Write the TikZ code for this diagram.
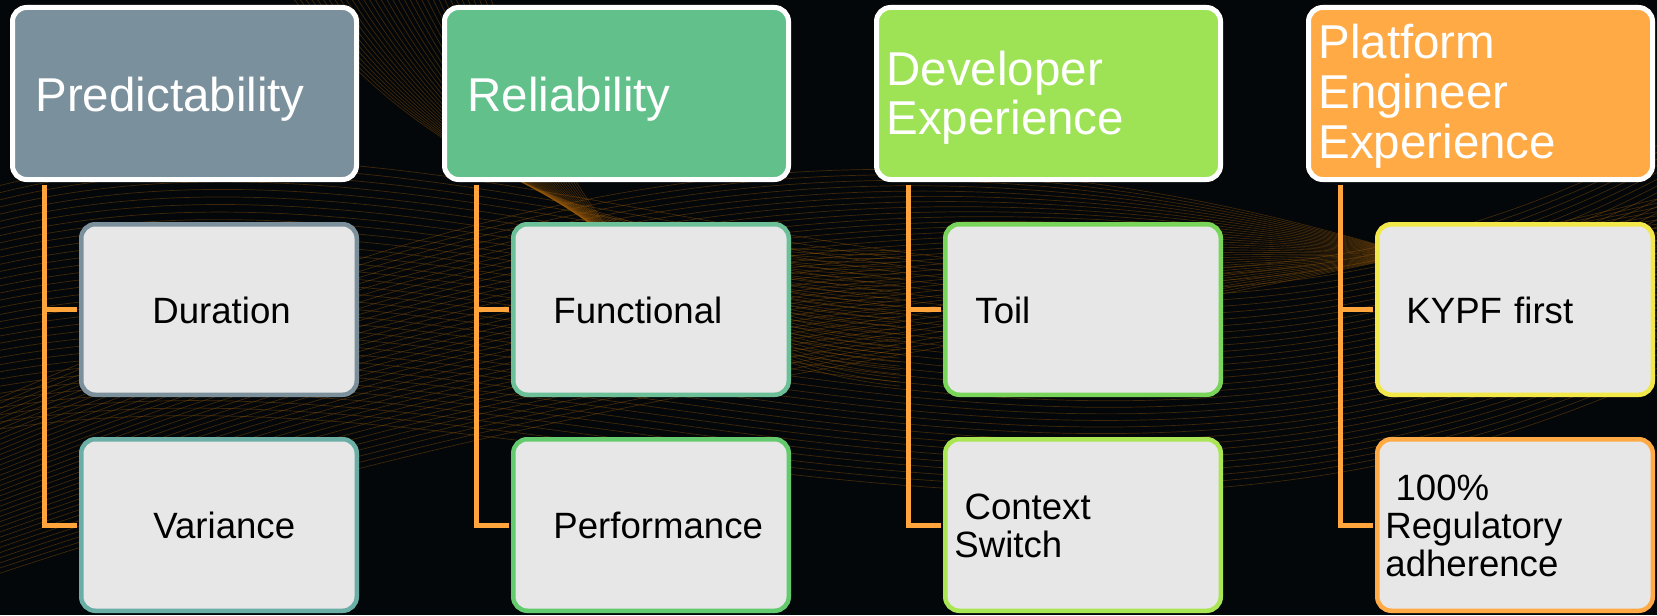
\documentclass[tikz,border=0pt]{standalone}
\usepackage{fontspec}
\setmainfont{Liberation Sans}
\usetikzlibrary{calc}
\definecolor{bgcol}{HTML}{03070A}
\definecolor{wave}{HTML}{9A5A08}
\definecolor{hPred}{HTML}{7A909C}
\definecolor{hReli}{HTML}{62C18A}
\definecolor{hDev}{HTML}{9EE355}
\definecolor{hPlat}{HTML}{FFAA44}
\definecolor{kidfill}{HTML}{E7E7E7}
\definecolor{connor}{HTML}{FFA53C}
\definecolor{bDur}{HTML}{7B909B}
\definecolor{bVar}{HTML}{6BAEA6}
\definecolor{bFun}{HTML}{6CC097}
\definecolor{bPer}{HTML}{63CB6E}
\definecolor{bToi}{HTML}{79D55A}
\definecolor{bCon}{HTML}{AAE653}
\definecolor{bKyp}{HTML}{F2E84A}
\definecolor{bReg}{HTML}{FFAA44}
\begin{document}
\begin{tikzpicture}[x=0.5pt,y=-0.5pt,
  hdr/.style={draw=white, line width=2.5pt, rounded corners=7pt,
    minimum width=172pt, minimum height=86pt, inner sep=0pt},
  kid/.style={fill=kidfill, line width=2.25pt, rounded corners=7pt,
    minimum width=137.75pt, inner sep=0pt},
  kidtop/.style={kid, minimum height=85.25pt},
  kidbot/.style={kid, minimum height=85.75pt},
  htxt/.style={anchor=base west, inner sep=0pt, text=white,
    font=\fontsize{23.75}{24.9}\selectfont, text width=170pt, align=left},
  ktxt/.style={anchor=base west, inner sep=0pt, text=black,
    font=\fontsize{18.3}{19.2}\selectfont, text width=130pt, align=left},
  conn/.style={draw=connor, line width=2.5pt},
  wl/.style={draw=wave, line width=0.35pt, opacity=0.4}]
\fill[bgcol] (0,0) rectangle (1657,615);
\useasboundingbox (0,0) rectangle (1657,615);
% decorative background waves
\begin{scope}
\clip (0,0) rectangle (1657,615);
\foreach \i in {0,...,34}{
  \draw[wl] (-50,200+7*\i) .. controls (500,20+9*\i) and (1100,520+5*\i) .. (1750,90+7*\i);
  \draw[wl] (-50,420+5*\i) .. controls (600,130+7*\i) and (1000,60+9*\i) .. (1750,380-6*\i);
  \draw[wl] (280+6*\i,-20) .. controls (420+4*\i,180) and (650,260+3*\i) .. (900,250+4*\i);
}
\end{scope}
% headers
\node[hdr, fill=hPred] (h1) at (184.5,93.5) {};
\node[hdr, fill=hReli] (h2) at (616.5,93.5) {};
\node[hdr, fill=hDev]  (h3) at (1048.5,93.5) {};
\node[hdr, fill=hPlat] (h4) at (1480.5,93.5) {};
% children
\node[kidtop, draw=bDur] (c11) at (219,309.5) {};
\node[kidbot, draw=bVar] (c12) at (219,525) {};
\node[kidtop, draw=bFun] (c21) at (651,309.5) {};
\node[kidbot, draw=bPer] (c22) at (651,525) {};
\node[kidtop, draw=bToi] (c31) at (1083,309.5) {};
\node[kidbot, draw=bCon] (c32) at (1083,525) {};
\node[kidtop, draw=bKyp] (c41) at (1515,309.5) {};
\node[kidbot, draw=bReg] (c42) at (1515,525) {};
% connectors
\foreach \k in {1,2,3,4}{
  \coordinate (v\k) at ($(h\k.south west)+(34,2.5)$);
  \draw[conn, shorten >=1.1pt] (v\k) |- (c\k1.west);
  \draw[conn, shorten >=1.1pt] (v\k) |- (c\k2.west);
}
% header texts
\node[htxt] (tPred) at (35,112) {Predictability};
\node[htxt] (tReli) at (467,112) {Reliability};
\node[htxt] (tDev) at (886,85) {Developer\\Experience};
\node[htxt] (tPlat) at (1318,59) {Platform\\Engineer\\Experience};
% child texts
\node[ktxt] (tDur) at (152,323) {Duration};
\node[ktxt] (tVar) at (153,538) {Variance};
\node[ktxt] (tFun) at (553,323) {Functional};
\node[ktxt] (tPer) at (553,538) {Performance};
\node[ktxt] (tToi) at (975,323) {Toil};
\node[ktxt] (tCon) at (954,519) {\hspace*{0.278em}Context\\Switch};
\node[ktxt] (tKyp) at (1406,323) {KYPF first};
\node[ktxt] (tReg) at (1385,500) {\hspace*{0.278em}100\%\\Regulatory\\adherence};
\end{tikzpicture}
\end{document}
